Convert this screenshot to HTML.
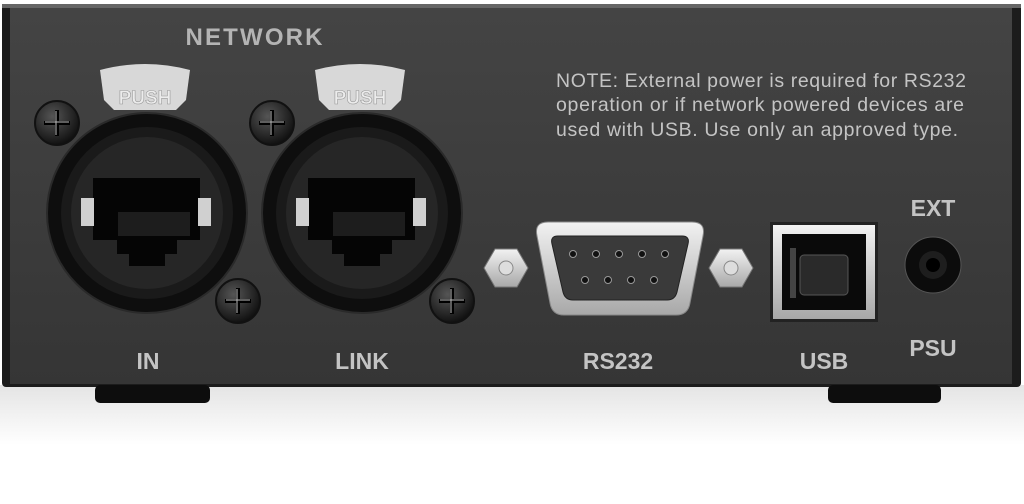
<!DOCTYPE html>
<html><head><meta charset="utf-8"><style>
html,body{margin:0;padding:0;background:#fff;width:1024px;height:504px;overflow:hidden}
svg{display:block}
text{font-family:"Liberation Sans",sans-serif}
</style></head><body>
<svg width="1024" height="504" viewBox="0 0 1024 504" xmlns="http://www.w3.org/2000/svg">
<defs>
<linearGradient id="body" x1="0" y1="0" x2="0" y2="1">
<stop offset="0" stop-color="#444"/><stop offset="1" stop-color="#353535"/></linearGradient>
<linearGradient id="silver" x1="0" y1="0" x2="0" y2="1">
<stop offset="0" stop-color="#f2f2f2"/><stop offset="1" stop-color="#a8a8a8"/></linearGradient>
<radialGradient id="screw" cx="0.4" cy="0.35" r="0.7">
<stop offset="0" stop-color="#555"/><stop offset="1" stop-color="#0c0c0c"/></radialGradient>
<linearGradient id="shadow" x1="0" y1="0" x2="0" y2="1">
<stop offset="0" stop-color="#e4e4e4"/><stop offset="1" stop-color="#fff"/></linearGradient>
<g id="hex"><polygon points="-22,0 -11,-19 11,-19 22,0 11,19 -11,19" fill="url(#silver)" stroke="#777"/>
<circle r="7" fill="#ddd" stroke="#888"/></g>
<g id="sc"><circle cx="0" cy="0" r="22" fill="url(#screw)" stroke="#111" stroke-width="2"/>
<path d="M-13 0 H13 M0 -13 V13" stroke="#000" stroke-width="4"/>
<path d="M-12 -1 H12 M-1 -12 V12" stroke="#bbb" stroke-width="1"/></g>
<g id="eth">
<path d="M100 70 Q145 58 190 70 L186 100 L176 110 L114 110 L104 100 Z" fill="#d8d8d8"/>
<text x="145" y="104" font-size="19" font-weight="bold" fill="#ececec" stroke="#999" stroke-width="0.6" text-anchor="middle">PUSH</text>
<circle cx="147" cy="213" r="100" fill="#0e0e0e" stroke="#2a2a2a" stroke-width="2"/>
<circle cx="147" cy="213" r="86" fill="#1a1a1a"/>
<circle cx="147" cy="213" r="76" fill="#262626"/>
<rect x="93" y="178" width="107" height="62" fill="#050505"/>
<rect x="117" y="240" width="60" height="14" fill="#050505"/>
<rect x="129" y="254" width="36" height="12" fill="#050505"/>
<rect x="118" y="212" width="72" height="24" fill="#1d1d1d"/>
<rect x="81" y="198" width="13" height="28" fill="#d0d0d0"/>
<rect x="198" y="198" width="13" height="28" fill="#d0d0d0"/>
</g>
</defs>
<rect x="0" y="385" width="1024" height="60" fill="url(#shadow)"/>
<rect x="2" y="4" width="1019" height="383" rx="4" fill="#1c1c1c"/>
<rect x="10" y="8" width="1002" height="376" fill="url(#body)"/>
<rect x="2" y="4" width="1019" height="4" fill="#666"/>
<rect x="95" y="385" width="115" height="18" rx="5" fill="#0d0d0d"/>
<rect x="828" y="385" width="113" height="18" rx="5" fill="#0d0d0d"/>

<text x="254" y="45" font-size="24" font-weight="bold" fill="#b4b4b4" text-anchor="middle" textLength="137">NETWORK</text>
<g font-size="19.5" fill="#c4c4c4">
<text x="556" y="87" textLength="410">NOTE: External power is required for RS232</text>
<text x="556" y="111" textLength="408">operation or if network powered devices are</text>
<text x="556" y="136" textLength="402">used with USB. Use only an approved type.</text>
</g>

<use href="#eth"/>
<use href="#eth" transform="translate(215,0)"/>
<use href="#sc" transform="translate(57,123)"/>
<use href="#sc" transform="translate(238,301)"/>
<use href="#sc" transform="translate(272,123)"/>
<use href="#sc" transform="translate(452,301)"/>

<use href="#hex" transform="translate(506,268)"/>
<use href="#hex" transform="translate(731,268)"/>
<path d="M548 222 H692 Q706 222 703 236 L690 303 Q688 315 676 315 H564 Q552 315 550 303 L537 236 Q534 222 548 222 Z" fill="url(#silver)" stroke="#888"/>
<path d="M558 236 H682 Q690 236 688 244 L677 292 Q675 300 667 300 H573 Q565 300 563 292 L552 244 Q550 236 558 236 Z" fill="#3a3a3a" stroke="#222"/>
<g fill="#111" stroke="#999" stroke-width="1">
<circle cx="573" cy="254" r="3.5"/><circle cx="596" cy="254" r="3.5"/><circle cx="619" cy="254" r="3.5"/><circle cx="642" cy="254" r="3.5"/><circle cx="665" cy="254" r="3.5"/>
<circle cx="585" cy="280" r="3.5"/><circle cx="608" cy="280" r="3.5"/><circle cx="631" cy="280" r="3.5"/><circle cx="654" cy="280" r="3.5"/>
</g>

<rect x="770" y="222" width="108" height="100" fill="#222"/>
<rect x="773" y="225" width="102" height="94" fill="url(#silver)"/>
<rect x="782" y="234" width="84" height="76" fill="#0a0a0a"/>
<rect x="800" y="255" width="48" height="40" rx="4" fill="#2a2a2a" stroke="#555"/>
<rect x="790" y="248" width="6" height="50" fill="#444"/>

<text x="933" y="216" font-size="23" font-weight="bold" fill="#c4c4c4" text-anchor="middle">EXT</text>
<circle cx="933" cy="265" r="28" fill="#0c0c0c" stroke="#555" stroke-width="1"/>
<circle cx="933" cy="265" r="14" fill="#1e1e1e"/>
<circle cx="933" cy="265" r="7" fill="#000"/>

<g font-size="23" font-weight="bold" fill="#c4c4c4" text-anchor="middle">
<text x="148" y="369">IN</text>
<text x="362" y="369">LINK</text>
<text x="618" y="369">RS232</text>
<text x="824" y="369">USB</text>
<text x="933" y="356">PSU</text>
</g>
</svg>
</body></html>
